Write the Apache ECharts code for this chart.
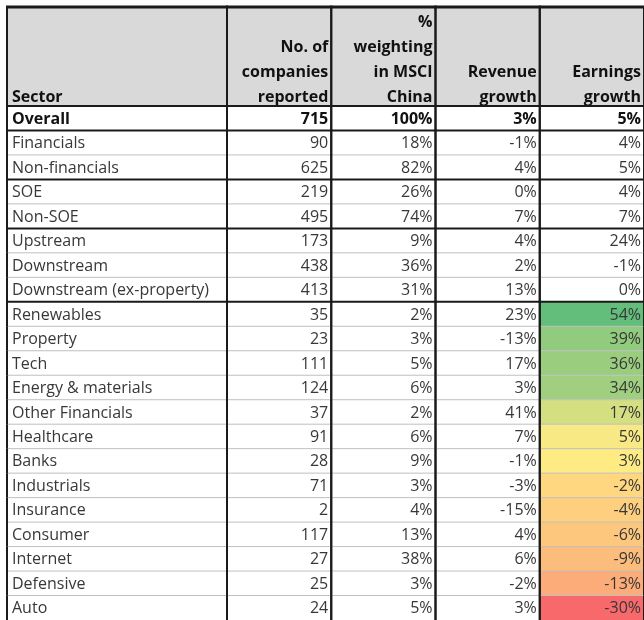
<!DOCTYPE html>
<html><head><meta charset="utf-8">
<script src="https://cdn.jsdelivr.net/npm/echarts@6/dist/echarts.min.js"></script>
<style>html,body{margin:0;padding:0;background:#fff}#c{width:644px;height:620px}</style>
</head><body><div id="c"></div>
<script>
// ---- data ----
const headers = ['Sector', 'No. of\ncompanies\nreported', '%\nweighting\nin MSCI\nChina', 'Revenue\ngrowth', 'Earnings\ngrowth'];
const sectors = ['Overall', 'Financials', 'Non-financials', 'SOE', 'Non-SOE', 'Upstream', 'Downstream', 'Downstream (ex-property)', 'Renewables', 'Property', 'Tech', 'Energy & materials', 'Other Financials', 'Healthcare', 'Banks', 'Industrials', 'Insurance', 'Consumer', 'Internet', 'Defensive', 'Auto'];
const companies = [715, 90, 625, 219, 495, 173, 438, 413, 35, 23, 111, 124, 37, 91, 28, 71, 2, 117, 27, 25, 24];
const weighting = [100, 18, 82, 26, 74, 9, 36, 31, 2, 3, 5, 6, 2, 6, 9, 3, 4, 13, 38, 3, 5];
const revenueGrowth = [3, -1, 4, 0, 7, 4, 2, 13, 23, -13, 17, 3, 41, 7, -1, -3, -15, 4, 6, -2, 3];
const earningsGrowth = [5, 4, 5, 4, 7, 24, -1, 0, 54, 39, 36, 34, 17, 5, 3, -2, -4, -6, -9, -13, -30];
const rowGroup = [0, 1, 1, 2, 2, 3, 3, 3, 4, 4, 4, 4, 4, 4, 4, 4, 4, 4, 4, 4, 4];
const heatGroup = 4;

// ---- styles ----
const FONT = "'Open Sans', 'Noto Sans', sans-serif";
const FS = 16;
const TEXT = '#383838';
const HEAD_BG = '#d9d9d9';
const LINE_DARK = '#1a1a1a';
const LINE_LIGHT = '#bfbfbf';

// Excel-style 3-colour scale (min red, 50th percentile yellow, max green)
function makeScale(vals) {
  const s = vals.slice().sort((a, b) => a - b);
  const n = s.length, pos = (n - 1) * 0.5, lo = Math.floor(pos), hi = Math.ceil(pos);
  const min = s[0], max = s[n - 1], mid = s[lo] + (s[hi] - s[lo]) * (pos - lo);
  const R = [248, 105, 107], Y = [255, 235, 132], G = [99, 190, 123];
  const mix = (a, b, t) => 'rgb(' + a.map((v, i) => Math.round(v + (b[i] - v) * t)).join(',') + ')';
  return v => v >= mid ? mix(Y, G, max === mid ? 0 : (v - mid) / (max - mid)) : mix(R, Y, (v - min) / (mid - min));
}
const heatVals = earningsGrowth.filter((v, i) => rowGroup[i] === heatGroup);
const heat = makeScale(heatVals);

const pct = v => v + '%';

// ---- cells ----
const headSector = [{ value: [0, 0], text: headers[0], align: 'left', fill: HEAD_BG, bold: true, head: true }];
const headNum = [1, 2, 3, 4].map((h, j) => ({ value: [j, 0], text: headers[h], align: 'right', fill: HEAD_BG, bold: true, head: true }));
const bodySector = sectors.map((s, i) => ({
  value: [0, i], text: s, align: 'left', fill: '#fff', bold: i === 0,
  thickTop: i === 0 || rowGroup[i] !== rowGroup[i - 1]
}));
const bodyNum = [];
sectors.forEach((s, i) => {
  const vals = [String(companies[i]), pct(weighting[i]), pct(revenueGrowth[i]), pct(earningsGrowth[i])];
  vals.forEach((t, j) => {
    bodyNum.push({
      value: [j, i], text: t, align: 'right',
      fill: (j === 3 && rowGroup[i] === heatGroup) ? heat(earningsGrowth[i]) : '#fff',
      bold: i === 0,
      thickTop: i === 0 || rowGroup[i] !== rowGroup[i - 1]
    });
  });
});

function renderer(cells) {
  return function (params, api) {
    const cell = cells[params.dataIndex];
    const c = api.coord([api.value(0), api.value(1)]);
    const s = api.size([1, 1]);
    const x0 = c[0] - s[0] / 2, y0 = c[1] - s[1] / 2, w = s[0], h = s[1];
    const children = [
      { type: 'rect', shape: { x: x0, y: y0, width: w, height: h }, style: { fill: cell.fill }, z2: 0 },
      {
        type: 'text', z2: 5,
        style: {
          text: cell.text,
          x: cell.align === 'left' ? x0 + 5 : x0 + w - 3,
          y: cell.head ? y0 + h + 4 : y0 + h / 2 + 1,
          align: cell.align,
          verticalAlign: cell.head ? 'bottom' : 'middle',
          font: (cell.bold ? 'bold ' : '') + FS + 'px ' + FONT,
          lineHeight: 25,
          fill: cell.bold ? '#111' : TEXT
        }
      },
      { type: 'line', z2: 10, shape: { x1: x0, y1: y0, x2: x0, y2: y0 + h }, style: { stroke: LINE_DARK, lineWidth: 2 } },
      { type: 'line', z2: 10, shape: { x1: x0 + w, y1: y0, x2: x0 + w, y2: y0 + h }, style: { stroke: LINE_DARK, lineWidth: 2 } }
    ];
    if (cell.head) {
      children.push({ type: 'line', z2: 12, shape: { x1: x0 - 1, y1: y0, x2: x0 + w + 1, y2: y0 }, style: { stroke: LINE_DARK, lineWidth: 3 } });
    } else {
      children.push({
        type: 'line', z2: cell.thickTop ? 12 : 8,
        shape: { x1: x0 - 1, y1: y0, x2: x0 + w + 1, y2: y0 },
        style: { stroke: cell.thickTop ? LINE_DARK : LINE_LIGHT, lineWidth: cell.thickTop ? 2 : 1 }
      });
    }
    return { type: 'group', children };
  };
}

const hideAxis = { show: false };
const chart = echarts.init(document.getElementById('c'), null, { renderer: 'canvas' });
chart.setOption({
  animation: false,
  grid: [
    { left: 7, top: 7, width: 220, height: 99 },
    { left: 227, top: 7, width: 418, height: 99 },
    { left: 7, top: 106, width: 220, height: 514 },
    { left: 227, top: 106, width: 418, height: 514 }
  ],
  xAxis: [
    Object.assign({ type: 'category', gridIndex: 0, data: [headers[0]] }, hideAxis),
    Object.assign({ type: 'category', gridIndex: 1, data: headers.slice(1) }, hideAxis),
    Object.assign({ type: 'category', gridIndex: 2, data: [headers[0]] }, hideAxis),
    Object.assign({ type: 'category', gridIndex: 3, data: headers.slice(1) }, hideAxis)
  ],
  yAxis: [
    Object.assign({ type: 'category', gridIndex: 0, data: ['head'], inverse: true }, hideAxis),
    Object.assign({ type: 'category', gridIndex: 1, data: ['head'], inverse: true }, hideAxis),
    Object.assign({ type: 'category', gridIndex: 2, data: sectors, inverse: true }, hideAxis),
    Object.assign({ type: 'category', gridIndex: 3, data: sectors, inverse: true }, hideAxis)
  ],
  series: [
    { type: 'custom', xAxisIndex: 0, yAxisIndex: 0, data: headSector, renderItem: renderer(headSector), encode: { x: 0, y: 1 } },
    { type: 'custom', xAxisIndex: 1, yAxisIndex: 1, data: headNum, renderItem: renderer(headNum), encode: { x: 0, y: 1 } },
    { type: 'custom', xAxisIndex: 2, yAxisIndex: 2, data: bodySector, renderItem: renderer(bodySector), encode: { x: 0, y: 1 } },
    { type: 'custom', xAxisIndex: 3, yAxisIndex: 3, data: bodyNum, renderItem: renderer(bodyNum), encode: { x: 0, y: 1 } }
  ]
});
</script>
</body></html>
